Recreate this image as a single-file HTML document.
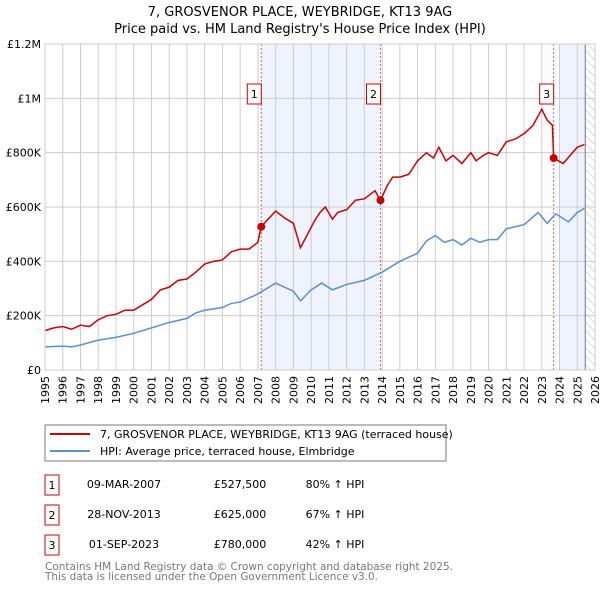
<!DOCTYPE html>
<html><head><meta charset="utf-8"><style>
body{margin:0;background:#fff;font-family:"Liberation Sans","DejaVu Sans",sans-serif;}
svg text{font-family:"DejaVu Sans","Liberation Sans",sans-serif;}
</style></head><body>
<svg id="c" width="600" height="590" xmlns="http://www.w3.org/2000/svg">
<defs><pattern id="hatch" width="6" height="6" patternUnits="userSpaceOnUse" patternTransform="rotate(-45)"><line x1="0" y1="0" x2="0" y2="6" stroke="#bbb" stroke-width="1"/></pattern></defs>
<text x="300" y="16" text-anchor="middle" font-size="13">7, GROSVENOR PLACE, WEYBRIDGE, KT13 9AG</text>
<text x="300" y="33" text-anchor="middle" font-size="13">Price paid vs. HM Land Registry's House Price Index (HPI)</text>
<g id="plot"></g>
<g>
<rect x="45" y="425" width="401" height="36" fill="#fff" stroke="#777"/>
<line x1="50" y1="434" x2="90" y2="434" stroke="#cc0000" stroke-width="2"/>
<text x="100" y="438" font-size="11">7, GROSVENOR PLACE, WEYBRIDGE, KT13 9AG (terraced house)</text>
<line x1="50" y1="451" x2="90" y2="451" stroke="#5b8fd4" stroke-width="2"/>
<text x="100" y="455" font-size="11">HPI: Average price, terraced house, Elmbridge</text>
</g>
<g font-size="11">
<rect x="45" y="475" width="14" height="20" fill="#fff" stroke="#cc0000"/><text x="52" y="489" text-anchor="middle">1</text>
<text x="124" y="488" text-anchor="middle">09-MAR-2007</text><text x="240" y="488" text-anchor="middle">£527,500</text><text x="335" y="488" text-anchor="middle">80% ↑ HPI</text>
<rect x="45" y="505" width="14" height="20" fill="#fff" stroke="#cc0000"/><text x="52" y="519" text-anchor="middle">2</text>
<text x="124" y="518" text-anchor="middle">28-NOV-2013</text><text x="240" y="518" text-anchor="middle">£625,000</text><text x="335" y="518" text-anchor="middle">67% ↑ HPI</text>
<rect x="45" y="535" width="14" height="20" fill="#fff" stroke="#cc0000"/><text x="52" y="549" text-anchor="middle">3</text>
<text x="124" y="548" text-anchor="middle">01-SEP-2023</text><text x="240" y="548" text-anchor="middle">£780,000</text><text x="335" y="548" text-anchor="middle">42% ↑ HPI</text>
</g>
<text x="45" y="570" font-size="11" fill="#777" textLength="408" lengthAdjust="spacingAndGlyphs">Contains HM Land Registry data © Crown copyright and database right 2025.</text>
<text x="45" y="580" font-size="11" fill="#777" textLength="333" lengthAdjust="spacingAndGlyphs">This data is licensed under the Open Government Licence v3.0.</text>
</svg>
<script>
const yearTicks=[1995,1996,1997,1998,1999,2000,2001,2002,2003,2004,2005,2006,2007,2008,2009,2010,2011,2012,2013,2014,2015,2016,2017,2018,2019,2020,2021,2022,2023,2024,2025,2026];
const priceTicks=[0,200000,400000,600000,800000,1000000,1200000];
const priceTickLabels=["£0","£200K","£400K","£600K","£800K","£1M","£1.2M"];
const redT=[1995,1995.5,1996,1996.5,1997,1997.5,1998,1998.5,1999,1999.5,2000,2000.5,2001,2001.5,2002,2002.5,2003,2003.5,2004,2004.5,2005,2005.5,2006,2006.5,2007,2007.19,2007.5,2008,2008.5,2009,2009.4,2009.8,2010.2,2010.5,2010.8,2011.2,2011.5,2012,2012.5,2013,2013.6,2013.91,2014.3,2014.6,2015,2015.5,2016,2016.5,2016.9,2017.2,2017.6,2018,2018.5,2019,2019.3,2019.7,2020,2020.5,2021,2021.5,2022,2022.5,2023,2023.3,2023.6,2023.67,2024.2,2024.6,2025,2025.4];
const redV=[145,155,160,150,165,160,185,200,205,220,220,240,260,295,305,330,335,360,390,400,405,435,445,445,470,527.5,550,585,560,540,450,500,550,580,600,555,580,590,625,630,660,625,680,710,710,720,770,800,780,820,770,790,760,800,770,790,800,790,840,850,870,900,960,920,900,780,760,790,820,830];
const blueT=[1995,1996,1996.5,1997,1998,1999,2000,2001,2001.5,2002,2003,2003.5,2004,2005,2005.5,2006,2007,2007.5,2008,2009,2009.4,2010,2010.6,2011.2,2012,2013,2014,2015,2016,2016.5,2017,2017.5,2018,2018.5,2019,2019.5,2020,2020.5,2021,2022,2022.8,2023.3,2023.8,2024.5,2025,2025.4];
const blueV=[85,88,85,92,110,120,135,155,165,175,190,210,220,230,245,250,280,300,320,290,255,295,320,295,315,330,360,400,430,475,495,470,480,460,485,470,480,480,520,535,580,540,575,545,580,595];
const saleT=[2007.19,2013.91,2023.67];
const saleV=[527.5,625,780];
const saleLabels=["1","2","3"];
const X0=45,X1=595,Y0=370,Y1=44;
const xs=t=>X0+(t-1995)/31*(X1-X0);
const ys=v=>Y0-v/1200000*(Y0-Y1);
const NS="http://www.w3.org/2000/svg";
const g=document.getElementById('plot');
function mk(tag,attrs,parent){const e=document.createElementNS(NS,tag);for(const k in attrs)e.setAttribute(k,attrs[k]);(parent||g).appendChild(e);return e;}
let e;
e=mk('rect',{x:xs(2007.19),y:Y1,width:xs(2013.91)-xs(2007.19),height:Y0-Y1,fill:'#eef3fd'});


e=mk('rect',{x:xs(2024),y:Y1,width:xs(2025.45)-xs(2024),height:Y0-Y1,fill:'#eef3fd'});


e=mk('rect',{x:xs(2025.45),y:Y1,width:X1-xs(2025.45),height:Y0-Y1,fill:'url(#hatch)'});


yearTicks.forEach(y=>{
 e=mk('line',{x1:xs(y),x2:xs(y),y1:Y1,y2:Y0,stroke:'#ccc'});
 
 
 e=mk('text',{x:0,y:0,'font-size':11,'text-anchor':'end',transform:`translate(${xs(y)+4},${Y0+6}) rotate(-90)`});
 e.textContent=y;
 
 
});
priceTicks.forEach((p,i)=>{
 e=mk('line',{x1:X0,x2:X1,y1:ys(p),y2:ys(p),stroke:'#ccc'});
 
 
 e=mk('text',{x:X0-4,y:ys(p)+4,'font-size':11,'text-anchor':'end'});
 e.textContent=priceTickLabels[i];
 
 
});
e=mk('line',{x1:xs(2025.45),x2:xs(2025.45),y1:Y1,y2:Y0,stroke:'#777'});


saleT.forEach((t,i)=>{
 e=mk('line',{x1:xs(t),x2:xs(t),y1:Y1,y2:Y0,stroke:'#e06060','stroke-dasharray':'2,2'});
 
 
});
e=mk('polyline',{points:blueT.map((t,i)=>xs(t)+','+ys(blueV[i]*1000)).join(' '),fill:'none',stroke:'#5b8fd4','stroke-width':1.5});


e=mk('polyline',{points:redT.map((t,i)=>xs(t)+','+ys(redV[i]*1000)).join(' '),fill:'none',stroke:'#cc0000','stroke-width':1.5});


saleT.forEach((t,i)=>{
 e=mk('circle',{cx:xs(t),cy:ys(saleV[i]*1000),r:4,fill:'#cc0000'});
 
 
 e=mk('rect',{x:xs(t)-14,y:84,width:14,height:20,fill:'#fff',stroke:'#cc0000'});
 
 
 e=mk('text',{x:xs(t)-7,y:98,'font-size':11,'text-anchor':'middle'});
 e.textContent=saleLabels[i];
 
 
});
e=mk('rect',{x:X0,y:Y1,width:X1-X0,height:Y0-Y1,fill:'none',stroke:'#ccc'});


</script>
</body></html>
